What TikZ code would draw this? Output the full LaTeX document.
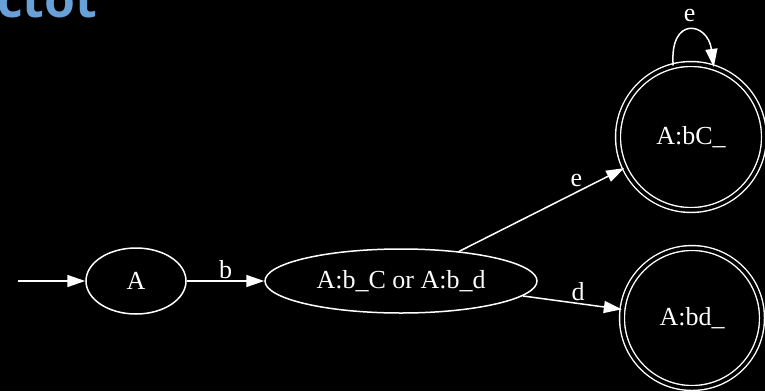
\documentclass[tikz,border=0pt]{standalone}
\usepackage{fontspec}
\setmainfont{Liberation Serif}
\newfontfamily\headfont{Open Sans}
\usetikzlibrary{arrows.meta,shapes.geometric}
\definecolor{headblue}{RGB}{104,160,216}
\begin{document}
\begin{tikzpicture}[x=1pt,y=-1pt,
  every node/.style={text=white,font=\fontsize{26}{30}\selectfont},
  edge/.style={draw=white,line width=1.5pt,-{Triangle[length=18pt,width=12pt]}},
  oval/.style={draw=white,line width=1.5pt,ellipse,inner sep=0pt},
  ring/.style={draw=white,line width=1.4pt,circle,double=black,double distance=3.5pt,inner sep=0pt},
  lbl/.style={inner sep=1pt}]
  \fill[black] (0,0) rectangle (765,391);
  \useasboundingbox (0,0) rectangle (765,391);
  % heading fragment at the top edge
  \begin{scope}
    \clip (0,0) rectangle (765,391);
    \node[text=headblue,font=\headfont\bfseries\fontsize{50}{56}\selectfont,anchor=base west,inner sep=0pt] (head) at (-3,17) {ctot};
  \end{scope}
  % states
  \node[oval,minimum width=100pt,minimum height=66pt] (A) at (136,281) {A};
  \node[oval,minimum width=272pt,minimum height=64pt] (B) at (401,281) {A:b\_C or A:b\_d};
  \node[ring,minimum size=146pt] (C) at (691,137) {A:bC\_};
  \node[ring,minimum size=140pt] (D) at (692,318) {A:bd\_};
  \coordinate (start) at (18,281);
  % transitions
  \draw[edge] (start) -- (A);
  \draw[edge] (A) -- node[lbl,above=1pt] {b} (B);
  \draw[edge] (B.27) -- node[lbl,above=4pt,pos=0.71] {e} (C.205);
  \draw[edge] (B.-7) -- node[lbl,above=1pt,pos=0.56] {d} (D.173);
  \draw[edge] (C.104) .. controls +(-4,-50) and +(-6,-45) .. node[lbl,above=7pt,pos=0.5] {e} (C.72);
\end{tikzpicture}
\end{document}
